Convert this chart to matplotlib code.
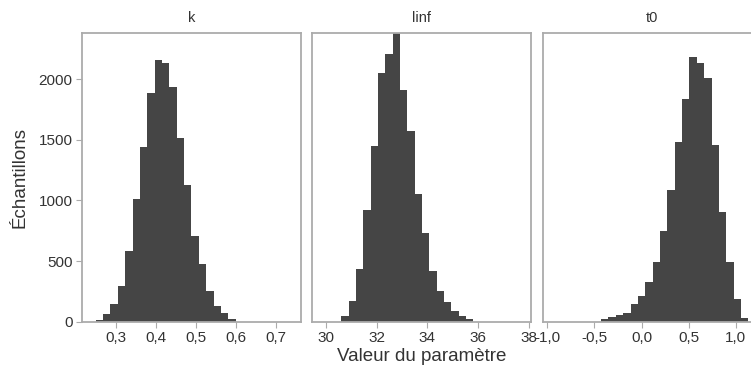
import numpy as np
import matplotlib
matplotlib.use("Agg")
from matplotlib import pyplot as plt

plt.rcParams['font.family'] = ['Liberation Sans', 'DejaVu Sans']

# histogram counts, one list per parameter
k_counts = [14, 63, 143, 294, 580, 1009, 1437, 1882, 2154, 2132,
            1934, 1514, 1129, 706, 475, 253, 129, 69, 20]
k_start, k_width = 0.2492, 0.01842

linf_counts = [47, 171, 432, 918, 1445, 2047, 2209, 2377, 1909, 1569,
               1050, 728, 420, 253, 165, 88, 47, 22]
linf_start, linf_width = 30.605, 0.2895

t0_counts = [20, 39, 58, 72, 148, 209, 330, 490, 748, 1088,
             1483, 1833, 2179, 2132, 2011, 1456, 902, 490, 185, 28]
t0_start, t0_width = -0.4292, 0.0782

panel_names = ["k", "linf", "t0"]
k_ticks = [0.3, 0.4, 0.5, 0.6, 0.7]
linf_ticks = [30, 32, 34, 36, 38]
t0_ticks = [-1.0, -0.5, 0.0, 0.5, 1.0]
y_ticks = [0, 500, 1000, 1500, 2000]

BAR = "#454545"
BORDER = "#ababab"
TEXT = "#333333"

W, H = 751, 366
fig = plt.figure(figsize=(W / 100, H / 100), dpi=100)


def add_panel(left, right, top=33.3, bottom=321.7):
    return fig.add_axes([left / W, (H - bottom) / H,
                         (right - left) / W, (bottom - top) / H])


def fr(x):
    return ("%.1f" % x).replace(".", ",")


panels = [
    (add_panel(81.7, 301.0), k_counts, k_start, k_width, k_ticks,
     (0.2143, 0.7625), [fr(t) for t in k_ticks]),
    (add_panel(312.3, 531.0), linf_counts, linf_start, linf_width, linf_ticks,
     (29.459, 38.092), [str(t) for t in linf_ticks]),
    (add_panel(542.7, 761.7), t0_counts, t0_start, t0_width, t0_ticks,
     (-1.049, 1.276), [fr(t) for t in t0_ticks]),
]

ymax = max(linf_counts)
for i, (ax, counts, start, width, ticks, xlim, labels) in enumerate(panels):
    lefts = start + width * np.arange(len(counts))
    ax.bar(lefts, counts, width=width, align='edge', color=BAR, linewidth=0)
    ax.set_xlim(*xlim)
    ax.set_ylim(0, ymax)
    ax.set_xticks(ticks)
    ax.set_xticklabels(labels)
    ax.set_yticks(y_ticks)
    if i > 0:
        ax.tick_params(axis='y', left=False, labelleft=False)
    for sp in ax.spines.values():
        sp.set_color(BORDER)
        sp.set_linewidth(1.3)
    ax.tick_params(axis='both', color=BORDER, length=4.5, width=0.8,
                   labelsize=11, labelcolor=TEXT, pad=2)
    ax.set_title(panel_names[i], fontsize=10.5, color=TEXT, pad=8)

fig.text(421.7 / W, 1 - 356.5 / H, "Valeur du paramètre", ha='center',
         va='center', fontsize=13.5, color=TEXT)
fig.text(20 / W, 1 - 177.5 / H, "Échantillons", ha='center', va='center',
         rotation=90, fontsize=13.5, color=TEXT)

fig.savefig("out.png", dpi=100)
